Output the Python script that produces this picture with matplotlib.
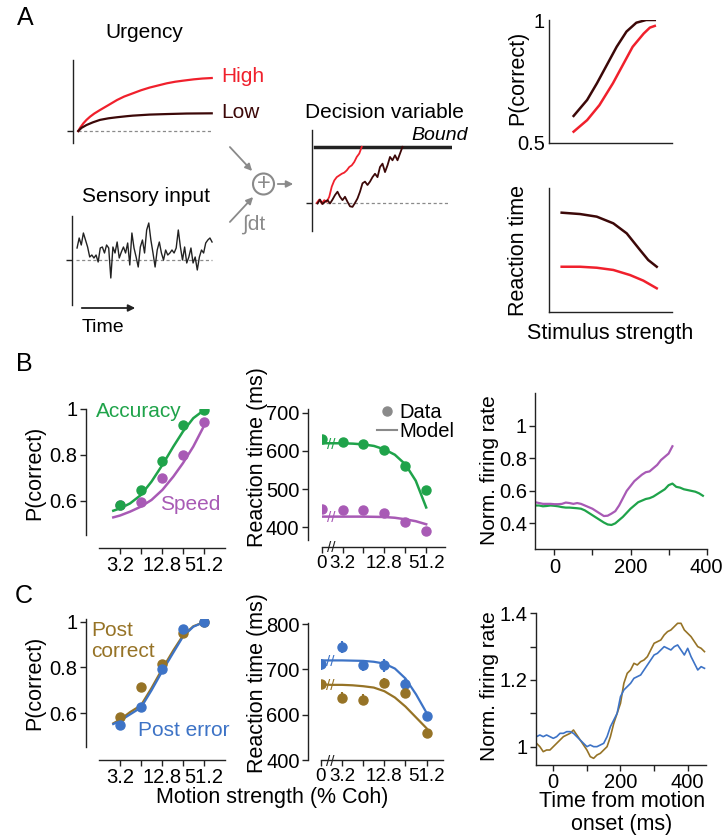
import numpy as np
import matplotlib.pyplot as plt
from matplotlib.lines import Line2D
from matplotlib.patches import Ellipse, FancyArrowPatch

# ---------------- data ----------------
# panel A, schematic curves (time / strength in arbitrary units)
urg_t_high = [0.037, 0.05, 0.073, 0.095, 0.12, 0.15, 0.19, 0.25, 0.31, 0.36, 0.42,
              0.48, 0.54, 0.60, 0.66, 0.72, 0.775, 0.85, 0.91, 0.977]
urg_high = [0, 0.06, 0.145, 0.21, 0.27, 0.33, 0.396, 0.49, 0.585, 0.65, 0.71,
            0.77, 0.82, 0.86, 0.90, 0.93, 0.95, 0.975, 0.99, 1.0]
urg_t_low = [0.037, 0.06, 0.095, 0.14, 0.19, 0.25, 0.31, 0.38, 0.42, 0.54, 0.66, 0.80, 0.977]
urg_low = [0, 0.06, 0.113, 0.164, 0.21, 0.24, 0.26, 0.28, 0.29, 0.31, 0.32, 0.33, 0.334]

sensory = [1.2, 2.2, 1.5, 2.7, 2.0, 1.3, 0.3, 0.5, 0.2, 0.5, -0.2, 1.2, 1.3, 0.7, 1.5,
           1.2, -1.8, 1.3, 0.7, 1.8, 0.2, 0.8, 1.3, 0.7, 1.7, -0.5, 2.7, 1.2, 0.3, -0.7,
           1.3, 2.0, 0.7, 3.0, 3.7, 2.0, 0.7, -0.7, 1.0, 1.8, 0.7, 0.0, 1.0, 0.5, 0.7,
           1.0, 0.7, 1.2, 3.0, 1.3, 0.0, 1.3, -0.3, 0.3, 1.2, -0.3, 0.3, -1.0, 0.3, 1.0,
           0.7, 1.7, 2.0, 2.2, 1.8]

dv_high = [0, 0.06, -0.01, 0.05, 0.02, 0.11, 0.29, 0.40, 0.46, 0.49, 0.52, 0.54, 0.58,
           0.64, 0.67, 0.73, 0.82, 0.88, 1.0]
dv_low = [-0.01, 0.06, -0.02, 0.02, 0.05, -0.01, 0.06, 0.14, 0.20, 0.11, 0.05, 0.11,
          0.02, -0.06, -0.07, 0.0, 0.08, 0.20, 0.35, 0.38, 0.32, 0.38, 0.46, 0.52, 0.46,
          0.64, 0.70, 0.55, 0.67, 0.82, 0.76, 0.85, 0.76, 0.88, 1.0]

pc_s_low = [0.2, 0.31, 0.39, 0.47, 0.55, 0.63, 0.71, 0.79, 0.86]
pc_low = [0.61, 0.675, 0.743, 0.817, 0.891, 0.953, 0.989, 1.0, 1.0]
pc_s_high = [0.2, 0.31, 0.41, 0.52, 0.60, 0.68, 0.77, 0.82, 0.86]
pc_high = [0.546, 0.593, 0.654, 0.743, 0.817, 0.891, 0.945, 0.969, 0.976]

rt_s_low = [0.103, 0.252, 0.388, 0.523, 0.632, 0.74, 0.807, 0.876]
rt_low = [0.801, 0.79, 0.769, 0.715, 0.634, 0.5, 0.419, 0.365]
rt_s_high = [0.103, 0.252, 0.388, 0.523, 0.659, 0.767, 0.876]
rt_high = [0.365, 0.365, 0.357, 0.339, 0.298, 0.253, 0.191]

# motion strength (% coh), plotted on equally spaced positions
coh_labels = ['0', '3.2', '', '12.8', '', '51.2']
coh_pos = [0, 1, 2, 3, 4, 5]
fit_pos = [0.68, 1.0, 1.48, 2.0, 2.5, 3.02, 3.54, 4.0, 4.49, 4.97]
rt_fit_pos = [0, 0.5, 1, 1.5, 2, 2.5, 3, 3.5, 4, 4.5, 5]

# panel B
pc_acc = [0.58, 0.645, 0.771, 0.93, 0.994]
pc_spd = [0.58, 0.593, 0.70, 0.798, 0.945]
pc_acc_fit = [0.556, 0.566, 0.588, 0.625, 0.683, 0.756, 0.836, 0.902, 0.96, 0.993]
pc_spd_fit = [0.527, 0.535, 0.552, 0.574, 0.603, 0.647, 0.705, 0.764, 0.836, 0.921]
rt_acc = [630, 624, 619, 602, 561, 498]
rt_spd = [449, 446, 445, 437, 413, 391]
rt_acc_fit = [620, 620, 620, 619, 617, 613, 604, 590, 565, 522, 452]
rt_spd_fit = [428, 428, 428, 428, 428, 427.5, 427, 425, 421, 416, 408]

fr_t_spd = np.arange(-50, 311, 10)
fr_spd = [0.53, 0.525, 0.52, 0.52, 0.52, 0.518, 0.518, 0.52, 0.528, 0.525, 0.52, 0.525,
          0.52, 0.51, 0.50, 0.49, 0.475, 0.46, 0.445, 0.447, 0.46, 0.475, 0.51, 0.555,
          0.60, 0.63, 0.66, 0.68, 0.70, 0.715, 0.72, 0.74, 0.76, 0.79, 0.81, 0.83, 0.875]
fr_t_acc = np.arange(-50, 391, 10)
fr_acc = [0.51, 0.51, 0.505, 0.507, 0.51, 0.508, 0.505, 0.50, 0.497, 0.497, 0.495, 0.493,
          0.49, 0.48, 0.465, 0.45, 0.435, 0.42, 0.405, 0.393, 0.39, 0.40, 0.42, 0.44,
          0.465, 0.49, 0.51, 0.53, 0.54, 0.55, 0.555, 0.565, 0.58, 0.595, 0.61, 0.635,
          0.645, 0.625, 0.62, 0.61, 0.605, 0.60, 0.595, 0.585, 0.57]

# panel C
pc_pc = [0.583, 0.716, 0.815, 0.952, 1.0]
pc_pc_err = [0.015, 0.015, 0.012, 0.01, 0.005]
pc_pe = [0.549, 0.626, 0.792, 0.967, 1.0]
pc_pe_err = [0.02, 0.018, 0.015, 0.012, 0.005]
pc_pc_fit = [0.556, 0.572, 0.605, 0.635, 0.71, 0.795, 0.875, 0.94, 0.98, 0.997]
pc_pe_fit = [0.553, 0.567, 0.595, 0.625, 0.70, 0.785, 0.865, 0.935, 0.978, 0.997]
rt_pc = [667, 638, 633, 670, 648, 559]
rt_pc_err = [10, 12, 12, 12, 12, 8]
rt_pe = [711, 750, 709, 709, 668, 598]
rt_pe_err = [12, 14, 12, 14, 10, 8]
rt_pc_fit = [667, 666, 666, 665, 663, 660, 652, 638, 618, 594, 570]
rt_pe_fit = [720, 720, 720, 719.5, 719, 717, 713, 702, 680, 645, 604]

fr_t_c = np.arange(-50, 451, 10)
fr_pc = [1.01, 1.0, 0.985, 0.99, 0.99, 1.0, 1.01, 1.02, 1.03, 1.035, 1.04, 1.05, 1.035,
         1.02, 1.005, 0.99, 0.97, 0.965, 0.975, 0.98, 0.99, 1.0, 1.03, 1.07, 1.10, 1.13,
         1.19, 1.22, 1.23, 1.25, 1.245, 1.255, 1.26, 1.27, 1.29, 1.31, 1.315, 1.32, 1.335,
         1.345, 1.35, 1.36, 1.37, 1.37, 1.35, 1.34, 1.33, 1.315, 1.30, 1.295, 1.285]
fr_pe = [1.03, 1.035, 1.03, 1.035, 1.03, 1.025, 1.03, 1.04, 1.04, 1.045, 1.045, 1.04, 1.03,
         1.02, 1.01, 1.0, 1.005, 1.0, 1.0, 1.005, 1.01, 1.03, 1.06, 1.08, 1.10, 1.15, 1.17,
         1.18, 1.19, 1.205, 1.21, 1.215, 1.23, 1.245, 1.26, 1.275, 1.28, 1.29, 1.30, 1.295,
         1.29, 1.30, 1.305, 1.29, 1.275, 1.295, 1.27, 1.25, 1.23, 1.24, 1.235]

# ---------------- style ----------------
RED = '#f0202c'
DARK = '#3c0808'
GREEN = '#1fa34a'
PURPLE = '#a85ab5'
BROWN = '#967326'
BLUE = '#3d73c6'
GREY = '#8a8a8a'
INK = '#222222'

plt.rcParams['font.family'] = ['Liberation Sans', 'DejaVu Sans']
plt.rcParams['font.size'] = 14.5
plt.rcParams['axes.linewidth'] = 1.0
plt.rcParams['axes.edgecolor'] = INK

W, H = 723, 840
fig = plt.figure(figsize=(W / 100, H / 100), dpi=100)


def add_px(x0, y0, x1, y1):
    return fig.add_axes([x0 / W, 1 - y1 / H, (x1 - x0) / W, (y1 - y0) / H])


def ftext(x, y, s, **kw):
    kw.setdefault('ha', 'center')
    kw.setdefault('va', 'center')
    return fig.text(x / W, 1 - y / H, s, **kw)


def clean(ax, left_out=0, bottom_out=0):
    for s in ['top', 'right']:
        ax.spines[s].set_visible(False)
    ax.spines['left'].set_position(('outward', left_out * 0.72))
    ax.spines['bottom'].set_position(('outward', bottom_out * 0.72))
    ax.tick_params(length=4, width=1, pad=2, labelsize=14.5, color=INK)
    ax.patch.set_alpha(0)


def schematic(ax):
    for s in ['top', 'right', 'bottom']:
        ax.spines[s].set_visible(False)
    ax.set_xticks([])
    ax.set_yticks([0])
    ax.set_yticklabels([])
    ax.tick_params(axis='y', length=4, width=1, color=INK)
    ax.patch.set_alpha(0)


def arrow(p0, p1, color):
    a = FancyArrowPatch((p0[0] / W, 1 - p0[1] / H), (p1[0] / W, 1 - p1[1] / H),
                        transform=fig.transFigure, arrowstyle='-|>', mutation_scale=10,
                        color=color, lw=1.3)
    fig.patches.append(a)


def brk_curve(ax, x, y, color):
    ax.annotate('//', xy=(x, y), ha='center', va='center_baseline', color=color, fontsize=11)


def brk_axis(ax, x, off_px):
    ax.annotate('//', xy=(x, 0), xycoords=('data', 'axes fraction'),
                xytext=(0, -off_px * 0.72), textcoords='offset points',
                ha='center', va='center_baseline', color=INK, fontsize=11)


# ---------------- panel A ----------------
ftext(25, 18, 'A', fontsize=18)

ax = add_px(73, 60, 215, 143)
schematic(ax)
ax.set_xlim(0, 1)
ax.set_ylim(-0.226, 1.34)
ax.plot([0.035, 0.977], [0, 0], ls=(0, (2.5, 2)), color=GREY, lw=0.9)
ax.plot(urg_t_high, urg_high, color=RED, lw=1.6)
ax.plot(urg_t_low, urg_low, color=DARK, lw=1.6)
ftext(144, 33, 'Urgency', fontsize=15)
ftext(221, 77, 'High', color=RED, ha='left', fontsize=15)
ftext(221, 113, 'Low', color=DARK, ha='left', fontsize=15)

ax = add_px(72, 216, 215, 305)
schematic(ax)
ax.set_xlim(-2.4, len(sensory) + 0.4)
ax.set_ylim(-4.5, 4.4)
ax.plot([-0.5, len(sensory) - 1], [0, 0], ls=(0, (2.5, 2)), color=GREY, lw=0.9)
ax.plot(np.arange(len(sensory)), sensory, color=INK, lw=1.0)
ftext(146, 196, 'Sensory input', fontsize=15)
arrow((79, 308), (138, 308), INK)
ftext(103, 327, 'Time', fontsize=14)

ax = add_px(312, 130, 452, 231)
schematic(ax)
ax.set_xlim(-1.9, 54.1)
ax.set_ylim(-0.5, 1.3)
ax.plot([-0.7, 52.5], [0, 0], ls=(0, (2.5, 2)), color=GREY, lw=0.9)
ax.plot([-0.7, 53.7], [1, 1], color=INK, lw=2.5)
ax.plot(np.arange(len(dv_high)), dv_high, color=RED, lw=1.3)
ax.plot(np.arange(len(dv_low)) + 0.3, dv_low, color=DARK, lw=1.3)
ftext(384, 112, 'Decision variable', fontsize=15)
ftext(468, 136, 'Bound', ha='right', style='italic', fontsize=14)

fig.patches.append(Ellipse((263.5 / W, 1 - 184 / H), 21 / W, 21 / H, transform=fig.transFigure,
                           fill=False, ec=GREY, lw=1.5))
ftext(263.5, 183.5, '+', color=GREY, fontsize=17)
arrow((228, 145), (254, 173), GREY)
arrow((228, 224), (255, 195), GREY)
arrow((275, 184), (296, 184), GREY)
ftext(242, 224, '∫dt', color=GREY, ha='left', fontsize=15)

ax = add_px(549, 20, 672, 143)
clean(ax)
ax.set_xlim(0, 1)
ax.set_ylim(0.5, 1)
ax.set_xticks([])
ax.set_yticks([0.5, 1])
ax.set_yticklabels(['0.5', '1'])
ax.tick_params(axis='y', length=0, pad=3)
ax.plot(pc_s_low, pc_low, color=DARK, lw=1.8)
ax.plot(pc_s_high, pc_high, color=RED, lw=1.8)
ftext(518, 78, 'P(correct)', rotation=90, fontsize=15.5)

ax = add_px(549, 188, 672, 312)
clean(ax)
ax.set_xlim(0, 1)
ax.set_ylim(0, 1)
ax.set_xticks([])
ax.set_yticks([])
ax.plot(rt_s_low, rt_low, color=DARK, lw=1.8)
ax.plot(rt_s_high, rt_high, color=RED, lw=1.8)
ftext(518, 251, 'Reaction time', rotation=90, fontsize=15.5)
ftext(610, 334, 'Stimulus strength', fontsize=15.5)

# ---------------- panel B ----------------
ftext(24, 364, 'B', fontsize=18)

ax = add_px(99, 409, 225, 535)
clean(ax, 13, 13)
ax.set_xlim(0, 6)
ax.set_ylim(0.45, 1.0)
ax.set_xticks(coh_pos[1:])
ax.set_xticklabels(coh_labels[1:])
ax.set_yticks([0.6, 0.8, 1.0])
ax.set_yticklabels(['0.6', '0.8', '1'])
ax.plot(fit_pos, pc_spd_fit, color=PURPLE, lw=1.8)
ax.plot(fit_pos, pc_acc_fit, color=GREEN, lw=1.8)
ax.plot(coh_pos[1:], pc_spd, 'o', color=PURPLE, ms=6.5)
ax.plot(coh_pos[1:], pc_acc, 'o', color=GREEN, ms=6.5)
ftext(96, 411, 'Accuracy', color=GREEN, ha='left', fontsize=15)
ftext(160, 504, 'Speed', color=PURPLE, ha='left', fontsize=15)
ftext(35, 473, 'P(correct)', rotation=90, fontsize=15.5)

ax = add_px(321.7, 409, 445, 540)
clean(ax, 14, 7)
ax.set_xlim(0, 5.9)
ax.set_ylim(366.8, 709.7)
ax.set_xticks(coh_pos)
ax.set_xticklabels(coh_labels)
ax.tick_params(axis='x', labelsize=13.5)
ax.set_yticks([400, 500, 600, 700])
ax.plot(rt_fit_pos, rt_acc_fit, color=GREEN, lw=1.8)
ax.plot(rt_fit_pos, rt_spd_fit, color=PURPLE, lw=1.8)
ax.plot(coh_pos, rt_acc, 'o', color=GREEN, ms=6.5)
ax.plot(coh_pos, rt_spd, 'o', color=PURPLE, ms=6.5)
brk_curve(ax, 0.45, rt_acc_fit[1], GREEN)
brk_curve(ax, 0.45, rt_spd_fit[1], PURPLE)
brk_axis(ax, 0.45, 7)
ftext(257, 457, 'Reaction time (ms)', rotation=90, fontsize=15.5)
handles = [Line2D([], [], marker='o', ls='none', color=GREY, ms=6.5),
           Line2D([], [], color=GREY, lw=1.5)]
fig.legend(handles, ['Data', 'Model'], loc='upper left',
           bbox_to_anchor=(377 / W, 1 - 403 / H), frameon=False, fontsize=14.5,
           handlelength=1.0, handletextpad=0.1, labelspacing=0.0, borderpad=0,
           borderaxespad=0)

ax = add_px(535.3, 392.7, 706.7, 549.3)
clean(ax)
ax.set_xlim(-50, 400)
ax.set_ylim(0.24, 1.205)
ax.set_xticks([0, 200, 400])
ax.set_xticks([100, 300], minor=True)
ax.tick_params(which='minor', length=4, width=1, color=INK)
ax.set_yticks([0.4, 0.6, 0.8, 1.0])
ax.set_yticklabels(['0.4', '0.6', '0.8', '1'])
ax.plot(fr_t_acc, fr_acc, color=GREEN, lw=1.6)
ax.plot(fr_t_spd, fr_spd, color=PURPLE, lw=1.6)
ftext(489, 470, 'Norm. firing rate', rotation=90, fontsize=15)

# ---------------- panel C ----------------
ftext(24, 596, 'C', fontsize=18)

ax = add_px(99, 619.3, 225, 746.7)
clean(ax, 13, 13)
ax.set_xlim(0, 6)
ax.set_ylim(0.454, 1.0105)
ax.set_xticks(coh_pos[1:])
ax.set_xticklabels(coh_labels[1:])
ax.set_yticks([0.6, 0.8, 1.0])
ax.set_yticklabels(['0.6', '0.8', '1'])
ax.plot(fit_pos, pc_pc_fit, color=BROWN, lw=1.6)
ax.plot(fit_pos, pc_pe_fit, color=BLUE, lw=1.6)
ax.errorbar(coh_pos[1:], pc_pc, yerr=pc_pc_err, fmt='o', color=BROWN, ms=6.5, elinewidth=1.5, capsize=0)
ax.errorbar(coh_pos[1:], pc_pe, yerr=pc_pe_err, fmt='o', color=BLUE, ms=6.5, elinewidth=1.5, capsize=0)
ftext(91, 641, 'Post\ncorrect', color=BROWN, ha='left', fontsize=15, linespacing=1.1)
ftext(138, 731, 'Post error', color=BLUE, ha='left', fontsize=15)
ftext(35, 683, 'P(correct)', rotation=90, fontsize=15.5)

ax = add_px(321, 623.3, 443.3, 760)
clean(ax, 13, 0)
ax.set_xlim(0, 5.79)
ax.set_ylim(500, 802)
ax.set_xticks(coh_pos)
ax.set_xticklabels(coh_labels)
ax.tick_params(axis='x', labelsize=13.5)
ax.set_yticks([500, 600, 700, 800])
ax.set_yticklabels(['400', '600', '700', '800'])
ax.plot(rt_fit_pos, rt_pe_fit, color=BLUE, lw=1.6)
ax.plot(rt_fit_pos, rt_pc_fit, color=BROWN, lw=1.6)
ax.errorbar(coh_pos, rt_pe, yerr=rt_pe_err, fmt='o', color=BLUE, ms=6.5, elinewidth=1.5, capsize=0)
ax.errorbar(coh_pos, rt_pc, yerr=rt_pc_err, fmt='o', color=BROWN, ms=6.5, elinewidth=1.5, capsize=0)
brk_curve(ax, 0.45, rt_pe_fit[1], BLUE)
brk_curve(ax, 0.45, rt_pc_fit[1], BROWN)
brk_axis(ax, 0.45, 0)
ftext(257, 683, 'Reaction time (ms)', rotation=90, fontsize=15.5)
ftext(272, 797, 'Motion strength (% Coh)', fontsize=15.5)

ax = add_px(535.7, 613.3, 706, 765)
clean(ax)
ax.set_xlim(-52.4, 454.5)
ax.set_ylim(0.945, 1.4)
ax.set_xticks([0, 200, 400])
ax.set_xticks([100, 300], minor=True)
ax.set_yticks([1.0, 1.2, 1.4])
ax.set_yticklabels(['1', '1.2', '1.4'])
ax.set_yticks([1.1, 1.3], minor=True)
ax.tick_params(which='minor', length=4, width=1, color=INK)
ax.plot(fr_t_c, fr_pc, color=BROWN, lw=1.2)
ax.plot(fr_t_c, fr_pe, color=BLUE, lw=1.2)
ftext(489, 686, 'Norm. firing rate', rotation=90, fontsize=15)
ftext(622, 813, 'Time from motion\nonset (ms)', fontsize=15.5, linespacing=1.15)

fig.savefig('out.png', dpi=100)
